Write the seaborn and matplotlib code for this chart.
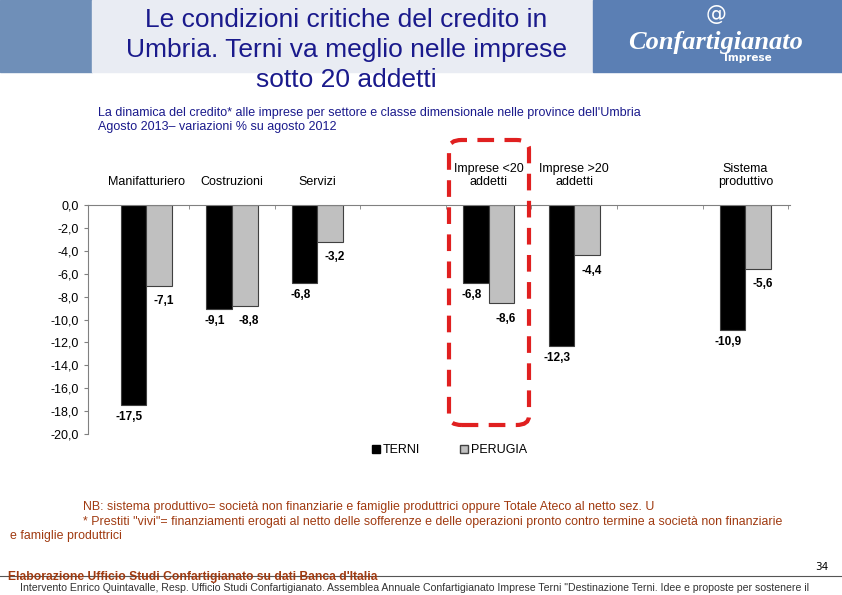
import matplotlib
matplotlib.use("Agg")
import matplotlib.pyplot as plt
import seaborn as sns
import pandas as pd
import numpy as np
from matplotlib.patches import Rectangle, FancyBboxPatch

categories = ["Manifatturiero", "Costruzioni", "Servizi", "", "Imprese <20\naddetti", "Imprese >20\naddetti", " ", "Sistema\nproduttivo"]
terni = [-17.5, -9.1, -6.8, np.nan, -6.8, -12.3, np.nan, -10.9]
perugia = [-7.1, -8.8, -3.2, np.nan, -8.6, -4.4, np.nan, -5.6]
yticks = np.arange(0, -20.1, -2)

df = pd.DataFrame({"cat": categories * 2,
                   "val": terni + perugia,
                   "serie": ["TERNI"] * 8 + ["PERUGIA"] * 8})

FN = "Liberation Sans"
fig = plt.figure(figsize=(8.42, 5.95), dpi=100)
fig.patches.append(Rectangle((0, 1 - 72/595), 92/842, 72/595, transform=fig.transFigure, color="#6f8fb8", zorder=0))
fig.patches.append(Rectangle((92/842, 1 - 72/595), 501/842, 72/595, transform=fig.transFigure, color="#e9ecf3", zorder=0))
fig.patches.append(Rectangle((593/842, 1 - 72/595), 249/842, 72/595, transform=fig.transFigure, color="#5b7fb4", zorder=0))
fig.text(346/842, 1 - 50/595, "Le condizioni critiche del credito in\nUmbria. Terni va meglio nelle imprese\nsotto 20 addetti",
         ha="center", va="center", fontsize=19, color="#1a1a8c", linespacing=1.3, fontfamily=FN)
fig.text(716/842, 1 - 42/595, "Confartigianato", ha="center", va="center", fontsize=19, color="white",
         fontweight="bold", fontstyle="italic", fontfamily="Liberation Serif")
fig.text(716/842, 1 - 14/595, "@", ha="center", va="center", fontsize=15, color="white")
fig.text(748/842, 1 - 58/595, "Imprese", ha="center", va="center", fontsize=7.5, color="white", fontweight="bold")

fig.text(98/842, 1 - 120/595, "La dinamica del credito* alle imprese per settore e classe dimensionale nelle province dell'Umbria\nAgosto 2013– variazioni % su agosto 2012",
         ha="left", va="center", fontsize=9, color="#1a1a8c", fontfamily=FN, linespacing=1.15)

ax = fig.add_axes([88/842, 1 - 434/595, 702/842, 229/595])
sns.barplot(data=df, x="cat", y="val", hue="serie", palette={"TERNI": "black", "PERUGIA": "#c0c0c0"},
            width=0.6, edgecolor="#404040", linewidth=0.8, ax=ax, legend=False)
ax.set_ylim(-20, 0)
ax.set_yticks(yticks)
ax.set_yticklabels([f"{v:.1f}".replace(".", ",") for v in yticks], fontsize=9, fontfamily=FN)
ax.set_xlabel(""); ax.set_ylabel("")
ax.xaxis.tick_top()
ax.set_xticks(np.arange(8) + 0.5, minor=True)
ax.tick_params(axis="x", which="major", length=0, labelsize=9, pad=12)
ax.tick_params(axis="x", which="minor", length=3, direction="in", color="#808080")
for lbl in ax.get_xticklabels():
    lbl.set_fontfamily(FN)
ax.set_xlim(-0.68, 7.52)
for s in ["right", "bottom"]:
    ax.spines[s].set_visible(False)
ax.spines["top"].set_color("#808080")
ax.spines["left"].set_color("#808080")
ax.tick_params(axis="y", length=3, color="#808080")

off = 0.15
for i in range(8):
    if np.isnan(terni[i]):
        continue
    ax.text(i - off - 0.05, terni[i] - 0.5, f"{terni[i]:.1f}".replace(".", ","), ha="center", va="top",
            fontsize=8.5, fontweight="bold", fontfamily=FN)
    ax.text(i + off + 0.05, perugia[i] - 0.8, f"{perugia[i]:.1f}".replace(".", ","), ha="center", va="top",
            fontsize=8.5, fontweight="bold", fontfamily=FN)

fig.patches.append(FancyBboxPatch((449/842, 1 - 425/595), 80/842, 285/595, boxstyle="round,pad=0,rounding_size=0.015",
                                  transform=fig.transFigure, fill=False, edgecolor="#e02020", linewidth=3,
                                  linestyle=(0, (4, 2.5)), zorder=5))

fig.patches.append(Rectangle((372/842, 1 - 453/595), 8/842, 8/595, transform=fig.transFigure, color="black"))
fig.text(383/842, 1 - 450/595, "TERNI", fontsize=9, va="center", fontfamily=FN)
fig.patches.append(Rectangle((460/842, 1 - 453/595), 8/842, 8/595, transform=fig.transFigure, facecolor="#c0c0c0", edgecolor="#404040"))
fig.text(471/842, 1 - 450/595, "PERUGIA", fontsize=9, va="center", fontfamily=FN)

nc = "#a03a10"
fig.text(83/842, 1 - 507/595, "NB: sistema produttivo= società non finanziarie e famiglie produttrici oppure Totale Ateco al netto sez. U",
         fontsize=8.9, color=nc, va="center", fontfamily=FN)
fig.text(83/842, 1 - 522/595, "* Prestiti \"vivi\"= finanziamenti erogati al netto delle sofferenze e delle operazioni pronto contro termine a società non finanziarie",
         fontsize=8.9, color=nc, va="center", fontfamily=FN)
fig.text(10/842, 1 - 536/595, "e famiglie produttrici", fontsize=8.9, color=nc, va="center", fontfamily=FN)
fig.text(828/842, 1 - 567/595, "34", fontsize=7.5, ha="right", va="center")
fig.add_artist(plt.Line2D([0, 1], [1 - 576/595] * 2, transform=fig.transFigure, color="#555555", linewidth=0.8))
fig.text(8/842, 1 - 577/595, "Elaborazione Ufficio Studi Confartigianato su dati Banca d'Italia", fontsize=8.7,
         color=nc, fontweight="bold", va="center", fontfamily=FN)
fig.text(20/842, 1 - 588/595, "Intervento Enrico Quintavalle, Resp. Ufficio Studi Confartigianato. Assemblea Annuale Confartigianato Imprese Terni \"Destinazione Terni. Idee e proposte per sostenere il",
         fontsize=7.6, color="#333333", va="center", fontfamily=FN)

fig.savefig("out.png", dpi=100)
